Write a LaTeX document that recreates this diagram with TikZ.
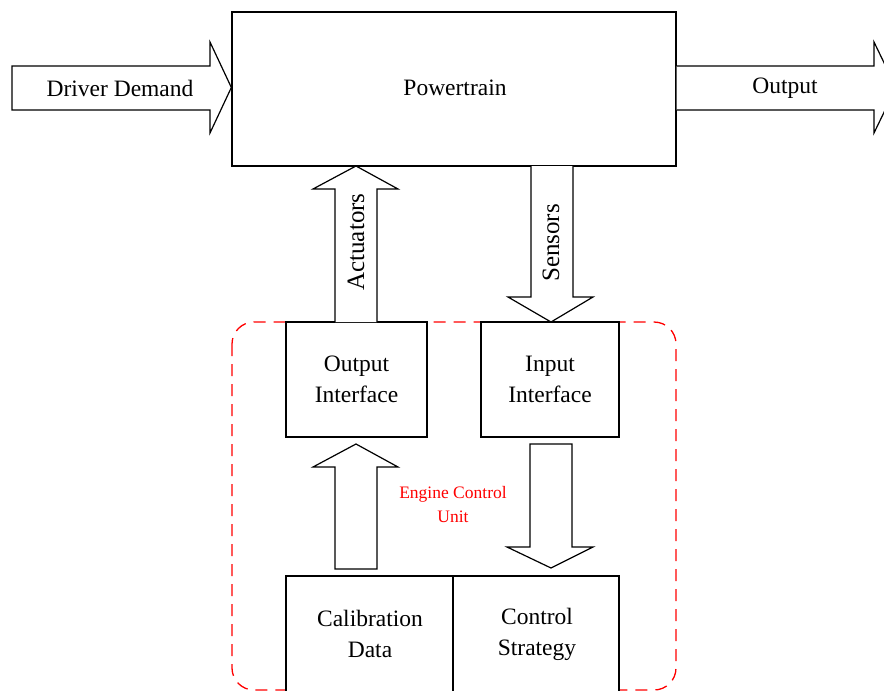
\documentclass[tikz,border=0pt]{standalone}
\usepackage{fontspec}
\setmainfont{Liberation Serif}
\begin{document}
\begin{tikzpicture}[x=1pt,y=-1pt,
  line width=1.3pt,
  blockbox/.style={draw=black,line width=1.3pt,fill=white,rectangle,inner sep=0pt},
  fatarrow/.style={draw=black,line width=1.2pt,fill=white,line join=miter},
  lbl/.style={font=\fontsize{23.5}{31}\selectfont,align=center,inner sep=0pt},
  vlbl/.style={font=\fontsize{25}{31}\selectfont,inner sep=0pt,rotate=90},
  eculbl/.style={font=\fontsize{17.5}{24}\selectfont,text=red,align=center,inner sep=0pt},
  ecuframe/.style={draw=red,line width=1.3pt,dash pattern=on 12pt off 8pt,rounded corners=22pt}
]
\useasboundingbox (0,0) rectangle (884,691);
\begin{scope}
\clip (0,0) rectangle (884,691);

% engine control unit frame
\draw[ecuframe] (232,322) rectangle (676,690);

% main blocks
\node[blockbox,minimum width=444pt,minimum height=154pt] (pt) at (454,89) {};
\node[lbl] (ptl) at (455,88) {Powertrain};

\node[blockbox,minimum width=141pt,minimum height=115pt] (oi) at (356.5,379.5) {};
\node[lbl] at (oi) {Output\\Interface};
\node[blockbox,minimum width=138pt,minimum height=115pt] (ii) at (550,379.5) {};
\node[lbl] at (ii) {Input\\Interface};

\node[blockbox,minimum width=167pt,minimum height=140pt] (cd) at (369.5,646) {};
\node[blockbox,minimum width=166pt,minimum height=140pt] (cs) at (536,646) {};
\node[lbl] at (370,634) {Calibration\\Data};
\node[lbl] at (537,634) {Control\\Strategy};

% driver demand (input arrow into powertrain)
\draw[fatarrow] (12,66) -- (210,66) -- (210,42) -- (pt.west |- 0,87.5) -- (210,133) -- (210,110) -- (12,110) -- cycle;
\node[lbl] (dd) at (120,88) {Driver Demand};

% output arrow leaving powertrain
\draw[fatarrow] (pt.east |- 0,66) -- (874,66) -- (874,42) -- (896,87.5) -- (874,133) -- (874,110) -- (pt.east |- 0,110);
\node[lbl] (out) at (785,88) {Output};

% actuators: output interface -> powertrain
\draw[fatarrow] (335,322) -- (335,189) -- (313,189) -- (356,166) -- (398,189) -- (377,189) -- (377,322);
\node[vlbl] (act) at (356,242) {Actuators};

% sensors: powertrain -> input interface
\draw[fatarrow] (531,166) -- (531,297) -- (508,297) -- (551,322) -- (593,297) -- (573,297) -- (573,166);
\node[vlbl] (sen) at (551,243) {Sensors};

% calibration data -> output interface
\draw[fatarrow] (335,569) -- (335,467) -- (313,467) -- (356,444) -- (398,467) -- (377,467) -- (377,569) -- cycle;

% input interface -> control strategy
\draw[fatarrow] (530,444) -- (530,547) -- (507,547) -- (551,568) -- (593,547) -- (572,547) -- (572,444) -- cycle;

\node[eculbl] (ecu) at (453,505) {Engine Control\\Unit};
\end{scope}
\end{tikzpicture}
\end{document}
